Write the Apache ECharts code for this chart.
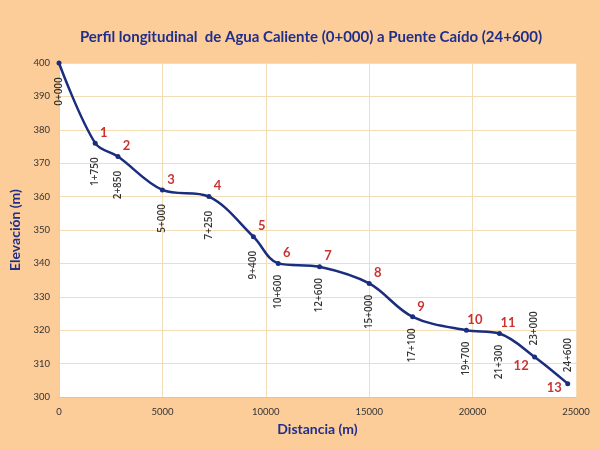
<!DOCTYPE html>
<html><head><meta charset="utf-8">
<script src="https://cdn.jsdelivr.net/npm/echarts@6/dist/echarts.min.js"></script>
<style>html,body{margin:0;padding:0;background:#FCCC99}#c{width:600px;height:449px}</style>
</head><body><div id="c"></div>
<script>
const distances = [0, 1750, 2850, 5000, 7250, 9400, 10600, 12600, 15000, 17100, 19700, 21300, 23000, 24600];
const elevations = [400, 376, 372, 362, 360, 348, 340, 339, 334, 324, 320, 319, 312, 304];
const pointNames = ['', '1', '2', '3', '4', '5', '6', '7', '8', '9', '10', '11', '12', '13'];
const chainages = ['0+000', '1+750', '2+850', '5+000', '7+250', '9+400', '10+600', '12+600', '15+000', '17+100', '19+700', '21+300', '23+000', '24+600'];
const xTicks = [0, 5000, 10000, 15000, 20000, 25000];
const yTicks = [300, 310, 320, 330, 340, 350, 360, 370, 380, 390, 400];

// label placement config (not data)
const chainAbove = new Set([12, 13]);
const nameLowerLeft = new Set([12, 13]);

const pts = distances.map((d, i) => [d, elevations[i]]);
const font = 'Lato, "Open Sans", sans-serif';

const chainData = pts.map((p, i) => ({
  value: p,
  label: {
    show: true,
    formatter: chainages[i],
    rotate: 90,
    align: 'center',
    verticalAlign: 'middle',
    position: [0.5, chainAbove.has(i) ? -28 : 29],
    fontSize: 10,
    fontWeight: 600,
    fontFamily: '"Open Sans", sans-serif',
    color: '#000'
  }
}));
const nameData = pts.map((p, i) => ({
  value: p,
  label: {
    show: pointNames[i] !== '',
    formatter: pointNames[i],
    align: 'center',
    verticalAlign: 'middle',
    position: nameLowerLeft.has(i) ? [-13, i === 13 ? 5 : 9] : [9, -10],
    fontSize: 13,
    fontWeight: 'bold',
    fontFamily: font,
    color: '#BE0000'
  }
}));

const chart = echarts.init(document.getElementById('c'));
chart.setOption({
  backgroundColor: '#FCCC99',
  animation: false,
  title: {
    text: 'Perfil longitudinal  de Agua Caliente (0+000) a Puente Caído (24+600)',
    left: 306, top: 25, textAlign: 'center',
    textStyle: { fontFamily: font, fontSize: 15, fontWeight: 'bold', color: '#1F2F8A' }
  },
  grid: { left: 59, right: 24, top: 63, bottom: 52, show: true, backgroundColor: '#FFFFFF', borderWidth: 0 },
  xAxis: {
    type: 'value', min: xTicks[0], max: xTicks[xTicks.length - 1], interval: xTicks[1] - xTicks[0],
    name: 'Distancia (m)', nameLocation: 'middle', nameGap: 25,
    nameTextStyle: { fontFamily: font, fontSize: 14, fontWeight: 'bold', color: '#1F2F8A' },
    axisLine: { lineStyle: { color: '#C8C8C8' } },
    axisTick: { show: false },
    axisLabel: { fontSize: 9.5, color: '#333', fontFamily: font, margin: 10, formatter: v => String(v) },
    splitLine: { lineStyle: { color: '#F3DDB6', width: 1 } }
  },
  yAxis: {
    type: 'value', min: yTicks[0], max: yTicks[yTicks.length - 1], interval: yTicks[1] - yTicks[0],
    name: 'Elevación (m)', nameLocation: 'middle', nameGap: 32,
    nameTextStyle: { fontFamily: font, fontSize: 14, fontWeight: 'bold', color: '#1F2F8A' },
    axisLine: { show: true, lineStyle: { color: '#D8D0C0' } },
    axisTick: { show: false },
    axisLabel: { fontSize: 9.5, color: '#333', fontFamily: font, margin: 9, formatter: v => String(v) },
    splitLine: { lineStyle: { color: '#F3DDB6', width: 1 } }
  },
  series: [
    {
      type: 'line', data: pts, smooth: 0.35,
      symbol: 'circle', symbolSize: 5,
      lineStyle: { color: '#1B2D7F', width: 2.5 },
      itemStyle: { color: '#1B2D7F' },
      z: 3
    },
    {
      type: 'scatter', data: chainData, symbolSize: 1,
      itemStyle: { color: 'rgba(0,0,0,0)' }, z: 4, silent: true
    },
    {
      type: 'scatter', data: nameData, symbolSize: 1,
      itemStyle: { color: 'rgba(0,0,0,0)' }, z: 4, silent: true
    }
  ]
});
</script></body></html>
